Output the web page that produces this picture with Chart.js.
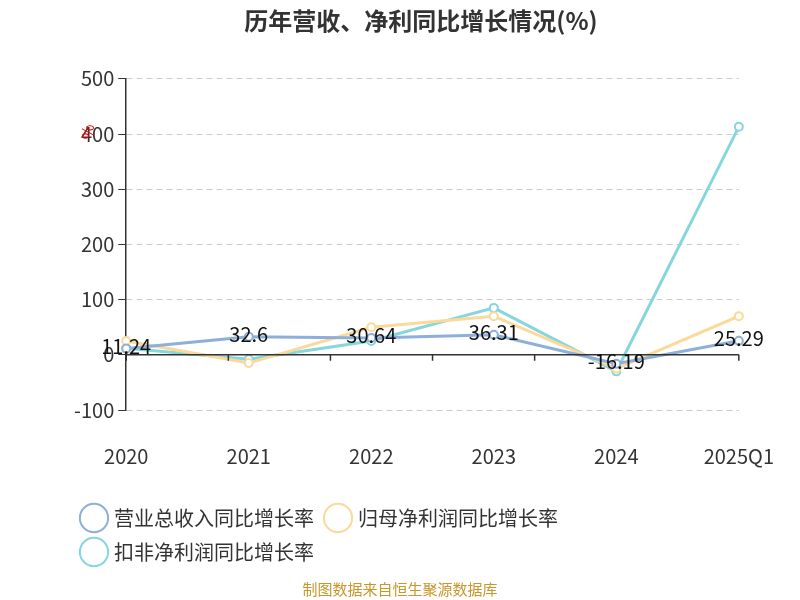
<!DOCTYPE html>
<html><head><meta charset="utf-8">
<script src="https://cdn.jsdelivr.net/npm/chart.js@4/dist/chart.umd.min.js"></script>
<style>body{margin:0;background:#fff}#w{width:800px;height:600px;position:relative}</style>
</head><body><div id="w"><canvas id="c" width="800" height="600"></canvas>
<script>
const categories=['2020','2021','2022','2023','2024','2025Q1'];
const revenue=[11.24,32.6,30.64,36.31,-16.19,25.29];
const netProfit=[25,-15,50,70,-25,70];
const deductedProfit=[12,-8,25,85,-30,413];
const yTicks=[-100,0,100,200,300,400,500];
const F='"Noto Sans CJK SC","Noto Sans",sans-serif';
const plug={id:'extra',
afterDatasetsDraw(ch){
 const c=ch.ctx,x=ch.scales.x,y=ch.scales.y,a=ch.chartArea;
 const y0=y.getPixelForValue(0);
 c.save();c.strokeStyle='#333';c.lineWidth=1.5;
 c.beginPath();c.moveTo(a.left,y0);c.lineTo(a.right,y0);
 const step=(a.right-a.left)/categories.length;
 for(let i=0;i<=categories.length;i++){const px=a.left+i*step;c.moveTo(px,y0);c.lineTo(px,y0+6);}
 c.stroke();
 c.fillStyle='#111';c.font='20px '+F;c.textAlign='center';c.textBaseline='middle';
 const m=ch.getDatasetMeta(0);
 m.data.forEach((p,i)=>c.fillText(String(revenue[i]),p.x,p.y-2));
 c.fillStyle='#e00';c.font='16px '+F;c.translate(88,132);c.rotate(-Math.PI/2);c.fillText('%',0,0);
 c.restore();
}};
new Chart(document.getElementById('c'),{type:'line',
data:{labels:categories,datasets:[
 {label:'营业总收入同比增长率',data:revenue,borderColor:'#8eaedb',pointBorderColor:'#8eaedb'},
 {label:'归母净利润同比增长率',data:netProfit,borderColor:'#fbd99a',pointBorderColor:'#fbd99a'},
 {label:'扣非净利润同比增长率',data:deductedProfit,borderColor:'#86d6dc',pointBorderColor:'#86d6dc'}
].map(d=>Object.assign(d,{borderWidth:3,pointRadius:4,pointBorderWidth:2,pointBackgroundColor:'#fff',backgroundColor:'#fff',tension:0}))},
options:{responsive:false,animation:false,devicePixelRatio:1,
 layout:{padding:{left:70,right:28,top:0,bottom:28}},
 plugins:{
  title:{display:true,text:'历年营收、净利同比增长情况(%)',font:{family:F,size:24,weight:'bold'},color:'#333',padding:{top:6,bottom:44}},
  legend:{position:'bottom',align:'start',labels:{usePointStyle:true,pointStyle:'circle',font:{family:F,size:20},color:'#333',padding:14,generateLabels(ch){return ch.data.datasets.map((d,i)=>({text:d.label,fillStyle:'#fff',strokeStyle:d.borderColor,lineWidth:2,pointStyle:'circle',datasetIndex:i,fontColor:'#333'}));}}},
  tooltip:{enabled:false}
 },
 scales:{
  x:{grid:{display:false},border:{display:false},ticks:{font:{family:F,size:20},color:'#333',padding:26}},
  y:{min:-100,max:500,afterBuildTicks(s){s.ticks=yTicks.map(v=>({value:v}));},
   grid:{color:'#ccc',tickColor:'#333',tickLength:8,drawTicks:true,lineWidth:1},
   border:{display:true,color:'#333',width:1.5,dash:[6,4]},
   ticks:{font:{family:F,size:20},color:'#333',padding:4}}
 }},
plugins:[plug]});
</script>
<div style="position:absolute;left:0;top:578px;width:800px;text-align:center;font:15px 'Noto Sans CJK SC',sans-serif;color:#c8962a">制图数据来自恒生聚源数据库</div>
</div></body></html>
